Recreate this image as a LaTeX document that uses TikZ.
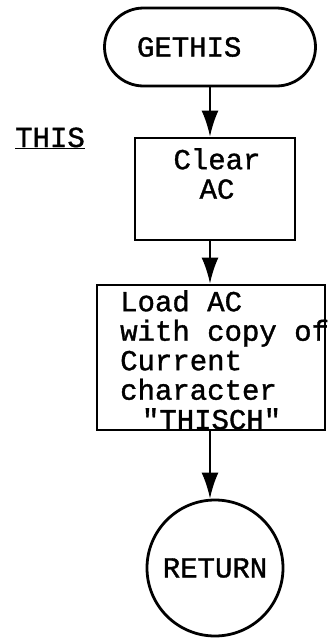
\documentclass[tikz,border=0pt]{standalone}
\usepackage{fontspec}
\setmonofont[FakeBold=1.2]{Liberation Mono}
\usetikzlibrary{arrows.meta}

\begin{document}
\begin{tikzpicture}[x=1pt, y=-1pt,
		every node/.style={font=\ttfamily\fontsize{29}{29.5}\selectfont, inner sep=0pt},
		flowbox/.style={draw, line width=2.8pt},
		flowline/.style={line width=2.2pt, -{Latex[length=26pt, width=17pt]}}]
		\useasboundingbox (0,0) rectangle (333,638);
		
		% entry and label
		\node [flowbox, rounded corners=39pt, minimum width=211pt, minimum height=78pt,
			text width=146pt, align=left] (gethis) at (210, 47) {GETHIS};
		\node [anchor=base west] (this) at (15, 147) {\underline{THIS}};
		
		% first box
		\node [flowbox, minimum width=160pt, minimum height=102pt] (clear) at (215, 189) {};
		\node [anchor=north, align=center] (clear text) at (217, 148) {Clear\\AC};
		
		% second box
		\node [flowbox, minimum width=228pt, minimum height=145pt] (load) at (211, 357.5) {};
		\node [anchor=north west, align=left] (load text) at (120, 290) {Load AC\\with copy of\\Current\\character\\\hspace*{0.75em}"THISCH"};
		
		% exit
		\node [flowbox, circle, minimum size=136pt] (return) at (215, 568) {RETURN};
		
		\draw [flowline] (gethis.south) -- (gethis.south |- clear.north);
		\draw [flowline] (gethis.south |- clear.south) -- (gethis.south |- load.north);
		\draw [flowline] (gethis.south |- load.south) -- (gethis.south |- return.north);
	\end{tikzpicture}
\end{document}
